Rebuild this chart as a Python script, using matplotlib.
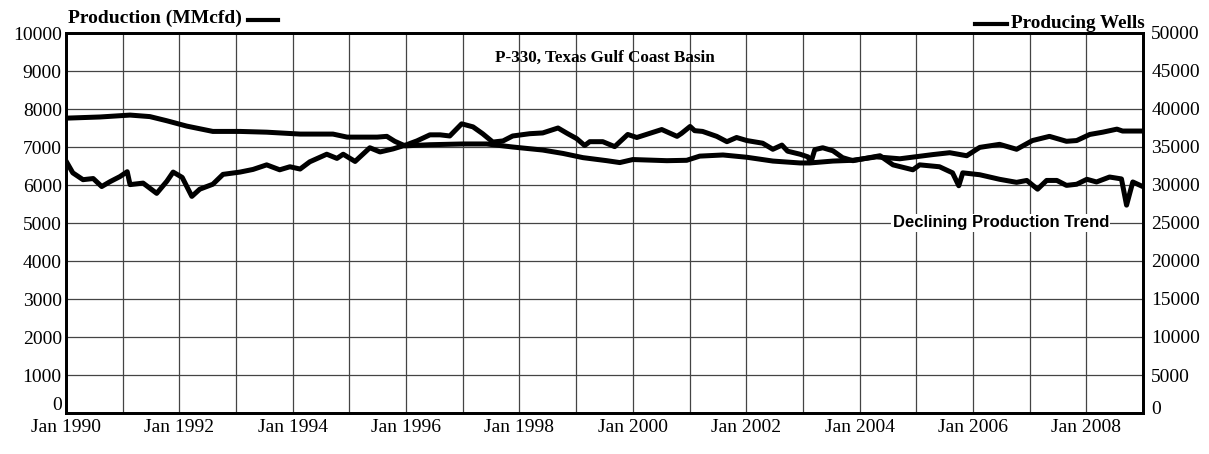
import numpy as np
import matplotlib
matplotlib.use("Agg")
import matplotlib.pyplot as plt
from matplotlib.transforms import ScaledTranslation

# Production (MMcfd), left axis
prod_year = [1990.02, 1990.12, 1990.30, 1990.48, 1990.63, 1990.78, 1990.95, 1991.08, 1991.13, 1991.36,
             1991.60, 1991.78, 1991.89, 1992.05, 1992.22, 1992.36, 1992.59, 1992.77, 1993.07, 1993.30,
             1993.54, 1993.77, 1993.95, 1994.13, 1994.30, 1994.60, 1994.78, 1994.89, 1995.10, 1995.36,
             1995.54, 1995.77, 1996.01, 1996.19, 1996.42, 1996.60, 1996.77, 1996.98, 1997.18, 1997.35,
             1997.53, 1997.71, 1997.88, 1998.18, 1998.41, 1998.68, 1998.84, 1999.01, 1999.15, 1999.24,
             1999.47, 1999.68, 1999.91, 2000.07, 2000.30, 2000.51, 2000.78, 2000.86, 2001.01, 2001.09,
             2001.23, 2001.48, 2001.66, 2001.83, 2002.01, 2002.29, 2002.47, 2002.63, 2002.73, 2002.95,
             2003.09, 2003.14, 2003.21, 2003.35, 2003.53, 2003.70, 2003.88, 2004.36, 2004.59, 2004.94,
             2005.06, 2005.41, 2005.64, 2005.75, 2005.82, 2006.12, 2006.47, 2006.77, 2006.95, 2007.14,
             2007.30, 2007.48, 2007.65, 2007.83, 2008.01, 2008.18, 2008.41, 2008.62, 2008.71, 2008.82,
             2008.98]
production = [6580, 6320, 6140, 6170, 5960, 6090, 6220, 6350, 6010, 6050,
              5780, 6100, 6340, 6200, 5700, 5890, 6020, 6280, 6340, 6410,
              6530, 6400, 6480, 6420, 6610, 6810, 6700, 6810, 6620, 6980,
              6870, 6950, 7060, 7160, 7320, 7320, 7290, 7610, 7530, 7350,
              7130, 7160, 7290, 7350, 7370, 7500, 7360, 7220, 7040, 7140,
              7140, 7010, 7330, 7250, 7360, 7460, 7280, 7360, 7540, 7430,
              7410, 7280, 7140, 7250, 7170, 7100, 6940, 7050, 6890, 6810,
              6740, 6590, 6930, 6980, 6900, 6720, 6640, 6770, 6530, 6400,
              6530, 6480, 6320, 5980, 6320, 6270, 6150, 6070, 6120, 5890,
              6120, 6120, 5990, 6020, 6150, 6080, 6210, 6160, 5470, 6080,
              5970]

# Producing wells, right axis
wells_year = [1990.02, 1990.60, 1991.13, 1991.48, 1991.78, 1992.13, 1992.59, 1993.07, 1993.54, 1994.13,
              1994.71, 1994.96, 1995.49, 1995.66, 1995.80, 1995.98, 1996.42, 1997.00, 1997.42, 1997.88,
              1998.41, 1998.77, 1999.12, 1999.54, 1999.77, 2000.00, 2000.60, 2000.95, 2001.18, 2001.59,
              2002.01, 2002.47, 2002.95, 2003.12, 2003.53, 2003.88, 2004.30, 2004.71, 2005.29, 2005.59,
              2005.89, 2006.12, 2006.47, 2006.77, 2007.05, 2007.35, 2007.65, 2007.83, 2008.06, 2008.29,
              2008.54, 2008.64, 2008.98]
wells = [38800, 38950, 39200, 39000, 38450, 37750, 37050, 37050, 36950, 36700,
         36700, 36300, 36300, 36400, 35750, 35150, 35300, 35400, 35400, 35000,
         34600, 34150, 33600, 33200, 32950, 33350, 33200, 33250, 33800, 33950,
         33650, 33150, 32900, 32900, 33150, 33250, 33700, 33450, 34000, 34250,
         33850, 34950, 35350, 34700, 35850, 36400, 35750, 35850, 36650, 36950,
         37350, 37100, 37100]

label_years = list(range(1990, 2009, 2))
serif = "Liberation Serif"

fig = plt.figure(figsize=(12.09, 4.54), dpi=100)
ax = fig.add_axes([66 / 1209, 1 - 413 / 454, (1143 - 66) / 1209, (413 - 33) / 454])
ax2 = ax.twinx()

ax.plot(prod_year, production, color="black", lw=3.6, solid_joinstyle="round", zorder=3)
ax2.plot(wells_year, wells, color="black", lw=3.6, solid_joinstyle="round", zorder=3)

ax.set_xlim(1990, 2009)
ax.set_ylim(0, 10000)
ax2.set_ylim(0, 50000)
ax.set_yticks(np.arange(0, 10001, 1000))
ax2.set_yticks(np.arange(0, 50001, 5000))
ax.set_xticks(label_years)
ax.set_xticklabels([f"Jan {y}" for y in label_years])
ax.set_xticks(np.arange(1990, 2010), minor=True)

ax.grid(True, which="both", axis="x", color="#444444", lw=0.9)
ax.grid(True, which="major", axis="y", color="#444444", lw=0.9)
ax.set_axisbelow(True)

for a in (ax, ax2):
    a.tick_params(which="both", length=0)
    for s in a.spines.values():
        s.set_linewidth(2)
        s.set_color("black")
    for lbl in a.get_yticklabels() + a.get_xticklabels():
        lbl.set_family(serif)
        lbl.set_fontsize(14)
ax.tick_params(axis="y", pad=3)
ax.tick_params(axis="x", pad=4)
ax2.tick_params(axis="y", pad=6)

# the two "0" labels sit a little above the bottom axis
for a, dy in ((ax, 9), (ax2, 5)):
    zero = a.get_yticklabels()[0]
    zero.set_transform(zero.get_transform() + ScaledTranslation(0, dy / 100, fig.dpi_scale_trans))

ax.text(0.5, 0.935, "P-330, Texas Gulf Coast Basin", transform=ax.transAxes,
        ha="center", va="center", family=serif, fontweight="bold", fontsize=12.3)
ax.text(2006.49, 5000, "Declining Production Trend", ha="center", va="center",
        family="Liberation Sans", fontweight="bold", fontsize=12,
        bbox=dict(facecolor="white", edgecolor="none", pad=1), zorder=4)

fig.text(68 / 1209, 1 - 18 / 454, "Production (MMcfd)", ha="left", va="center",
         family=serif, fontweight="bold", fontsize=14)
fig.lines.append(plt.Line2D([248 / 1209, 278 / 1209], [1 - 20 / 454] * 2,
                            transform=fig.transFigure, color="black", lw=3))
fig.text(1145 / 1209, 1 - 24 / 454, "Producing Wells", ha="right", va="center",
         family=serif, fontweight="bold", fontsize=13.8)
fig.lines.append(plt.Line2D([975 / 1209, 1007 / 1209], [1 - 24 / 454] * 2,
                            transform=fig.transFigure, color="black", lw=3))

fig.savefig("out.png", dpi=100)
